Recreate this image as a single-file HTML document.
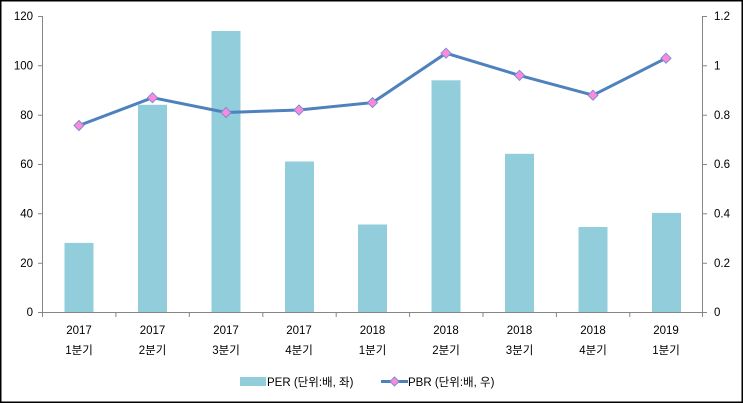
<!DOCTYPE html>
<html><head><meta charset="utf-8"><style>
html,body{margin:0;padding:0;background:#fff;}
svg{display:block;}
text{font-family:"Liberation Sans","Noto Sans CJK KR",sans-serif;font-size:11.5px;fill:#000;}
</style></head><body>
<svg width="743" height="403" viewBox="0 0 743 403" xmlns="http://www.w3.org/2000/svg">
<rect x="0.75" y="0.75" width="741.5" height="401.5" fill="#fff" stroke="#000" stroke-width="1.5"/>
<!-- bars -->
<g fill="#92cddc">
<rect x="64.5" y="242.9" width="29" height="69.1"/>
<rect x="138" y="104.8" width="29" height="207.2"/>
<rect x="211.5" y="31" width="29" height="281"/>
<rect x="285" y="161.5" width="29" height="150.5"/>
<rect x="358" y="224.5" width="29" height="87.5"/>
<rect x="431.5" y="80.3" width="29" height="231.7"/>
<rect x="505" y="153.8" width="29" height="158.2"/>
<rect x="578.5" y="227" width="29" height="85"/>
<rect x="652" y="212.9" width="29" height="99.1"/>
</g>
<!-- axes -->
<g stroke="#868686" stroke-width="1" fill="none">
<line x1="42.5" y1="16" x2="42.5" y2="312"/>
<line x1="702.5" y1="16" x2="702.5" y2="312"/>
<line x1="42" y1="312.5" x2="703" y2="312.5"/>
<path d="M38 16.5H42M38 65.8H42M38 115.2H42M38 164.5H42M38 213.8H42M38 263.2H42M38 312.5H42"/>
<path d="M703 16.5H707M703 65.8H707M703 115.2H707M703 164.5H707M703 213.8H707M703 263.2H707M703 312.5H707"/>
<path d="M42.5 312V317M115.9 312V317M189.3 312V317M262.8 312V317M336.2 312V317M409.6 312V317M483 312V317M556.4 312V317M629.8 312V317M702.5 312V317"/>
</g>
<g text-anchor="end">
<text x="33" y="20">120</text><text x="33" y="69.5">100</text><text x="33" y="119">80</text>
<text x="33" y="168">60</text><text x="33" y="217.5">40</text><text x="33" y="267">20</text><text x="33" y="316">0</text>
</g>
<g>
<text x="714" y="20">1.2</text><text x="714" y="69.5">1</text><text x="714" y="119">0.8</text>
<text x="714" y="168">0.6</text><text x="714" y="217.5">0.4</text><text x="714" y="267">0.2</text><text x="714" y="316">0</text>
</g>
<g text-anchor="middle">
<text x="79" y="334">2017</text><text x="79" y="354">1분기</text>
<text x="152.5" y="334">2017</text><text x="152.5" y="354">2분기</text>
<text x="226" y="334">2017</text><text x="226" y="354">3분기</text>
<text x="299" y="334">2017</text><text x="299" y="354">4분기</text>
<text x="372.5" y="334">2018</text><text x="372.5" y="354">1분기</text>
<text x="446" y="334">2018</text><text x="446" y="354">2분기</text>
<text x="519.5" y="334">2018</text><text x="519.5" y="354">3분기</text>
<text x="593" y="334">2018</text><text x="593" y="354">4분기</text>
<text x="666" y="334">2019</text><text x="666" y="354">1분기</text>
</g>
<!-- line -->
<polyline fill="none" stroke="#4f81bd" stroke-width="3" points="79,125.5 152.5,97.7 226,112.5 299,110 372.5,102.6 446,53.2 519.5,75.4 593,95.2 666,58.2"/>
<g fill="#ff88dd" stroke="#7a8fd0" stroke-width="1">
<path d="M79 120.5l5 5-5 5-5-5z"/>
<path d="M152.5 92.7l5 5-5 5-5-5z"/>
<path d="M226 107.5l5 5-5 5-5-5z"/>
<path d="M299 105l5 5-5 5-5-5z"/>
<path d="M372.5 97.6l5 5-5 5-5-5z"/>
<path d="M446 48.2l5 5-5 5-5-5z"/>
<path d="M519.5 70.4l5 5-5 5-5-5z"/>
<path d="M593 90.2l5 5-5 5-5-5z"/>
<path d="M666 53.2l5 5-5 5-5-5z"/>
</g>
<!-- legend -->
<rect x="240" y="377" width="26" height="9" fill="#92cddc"/>
<text x="267" y="386">PER (단위:배, 좌)</text>
<line x1="381" y1="381.5" x2="408" y2="381.5" stroke="#4f81bd" stroke-width="3"/>
<path d="M394.5 377l4.5 4.5-4.5 4.5-4.5-4.5z" fill="#ff88dd" stroke="#7a8fd0" stroke-width="1"/>
<text x="408" y="386">PBR (단위:배, 우)</text>
</svg>
</body></html>
